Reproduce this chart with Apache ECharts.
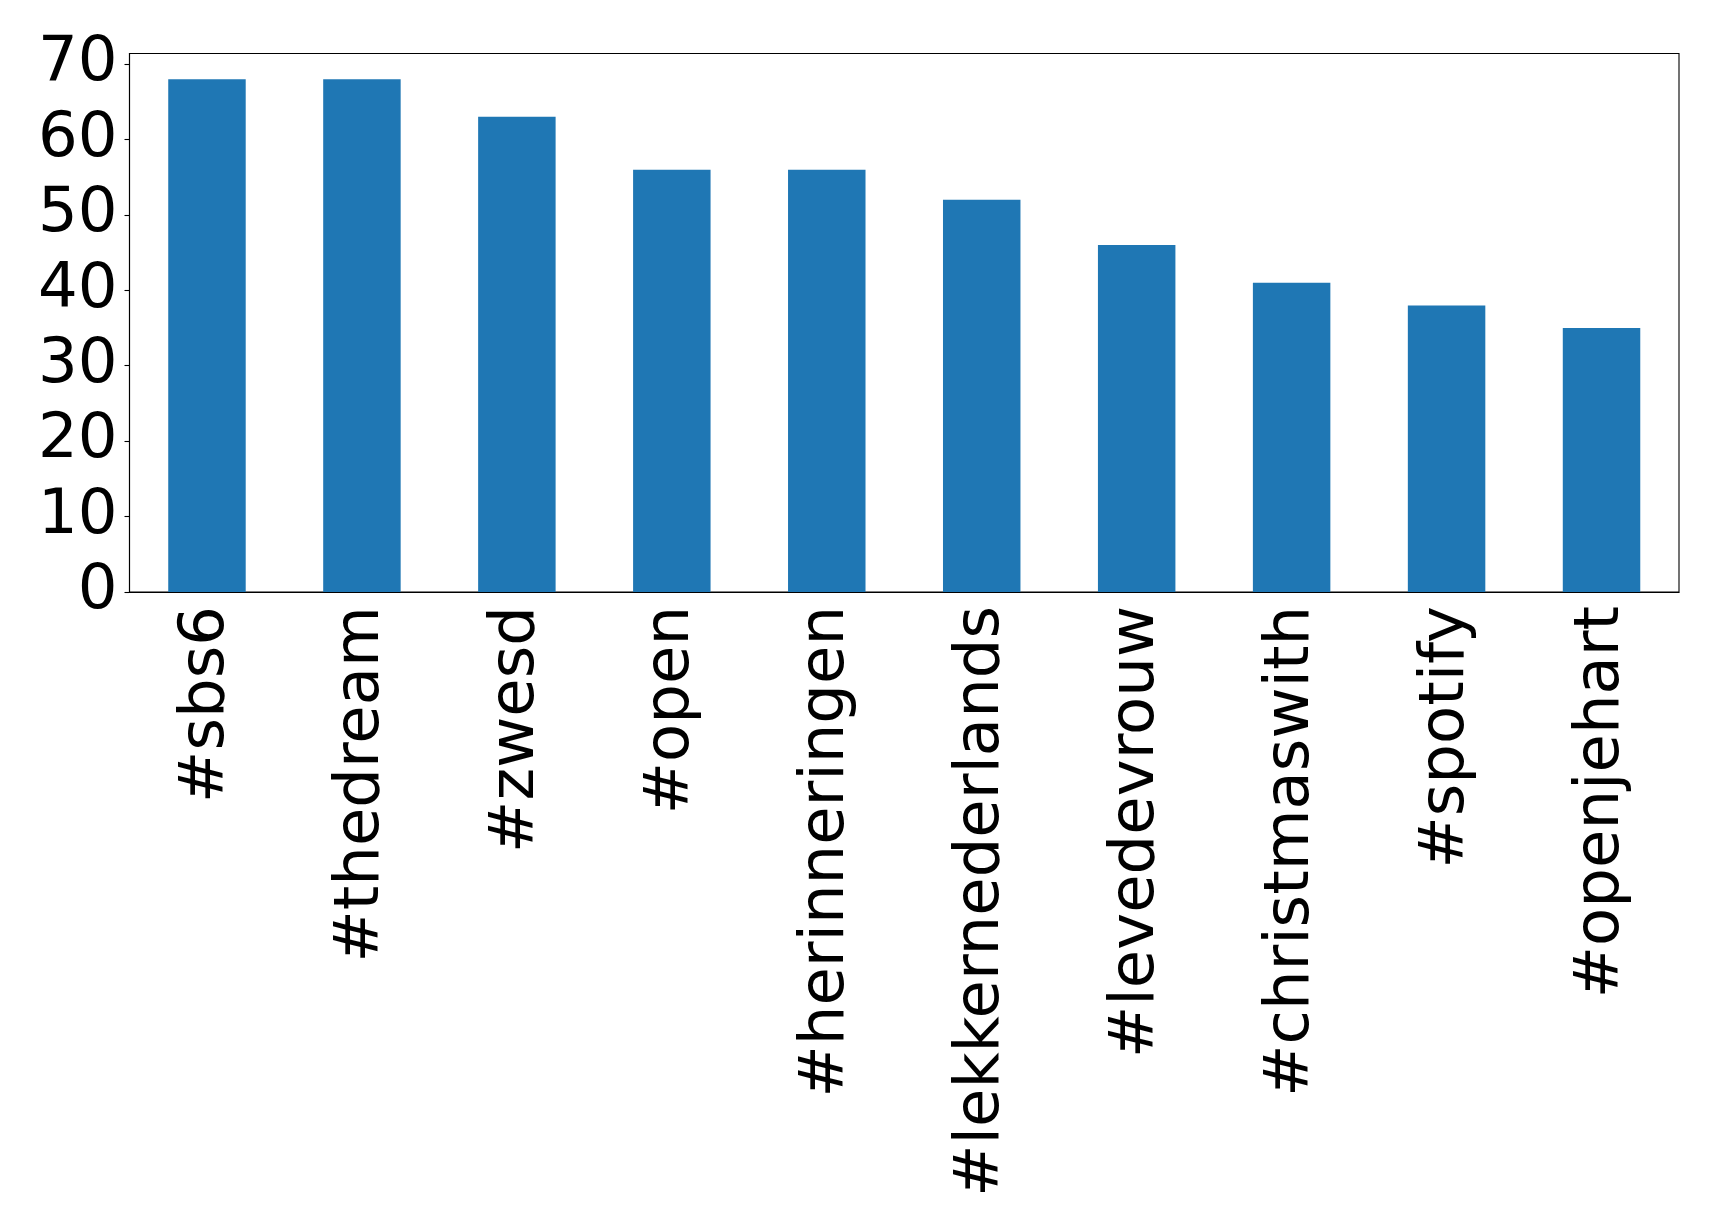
<!DOCTYPE html>
<html>
<head>
<meta charset="utf-8">
<script src="https://cdn.jsdelivr.net/npm/echarts@6/dist/echarts.min.js"></script>
<style>
html,body{margin:0;padding:0;background:#fff;}
#chart{width:1719px;height:1232px;}
</style>
</head>
<body>
<div id="chart"></div>
<script>
const categories = ['#sbs6','#thedream','#zwesd','#open','#herinneringen','#lekkernederlands','#levedevrouw','#christmaswith','#spotify','#openjehart'];
const counts = [68, 68, 63, 56, 56, 52, 46, 41, 38, 35];
const yTicks = [0, 10, 20, 30, 40, 50, 60, 70];

const chart = echarts.init(document.getElementById('chart'), null, {renderer: 'canvas'});
const font = 'DejaVu Sans';
chart.setOption({
  animation: false,
  backgroundColor: '#fff',
  grid: {
    left: 129.5, right: 40, top: 53.5, bottom: 640,
    show: true, borderColor: '#000', borderWidth: 1.1, backgroundColor: 'transparent'
  },
  xAxis: {
    type: 'category',
    data: categories,
    axisLine: {lineStyle: {color: '#000', width: 1.1}},
    axisTick: {alignWithLabel: true, length: 5, lineStyle: {color: '#000', width: 1.1}},
    axisLabel: {
      rotate: 90, fontFamily: font, fontSize: 62.5, color: '#000', margin: 14,
      interval: 0, padding: [6, 0, 0, 0]
    }
  },
  yAxis: {
    type: 'value',
    min: 0, max: 71.4, interval: 10,
    splitLine: {show: false},
    axisLine: {show: true, lineStyle: {color: '#000', width: 1.1}},
    axisTick: {show: true, length: 5, lineStyle: {color: '#000', width: 1.1},
      customValues: yTicks},
    axisLabel: {
      fontFamily: font, fontSize: 62.5, color: '#000', margin: 12,
      customValues: yTicks, padding: [6, 0, 0, 0]
    }
  },
  series: [{
    type: 'bar',
    data: counts,
    barWidth: '50%',
    itemStyle: {color: '#1f77b4'}
  }]
});
</script>
</body>
</html>
